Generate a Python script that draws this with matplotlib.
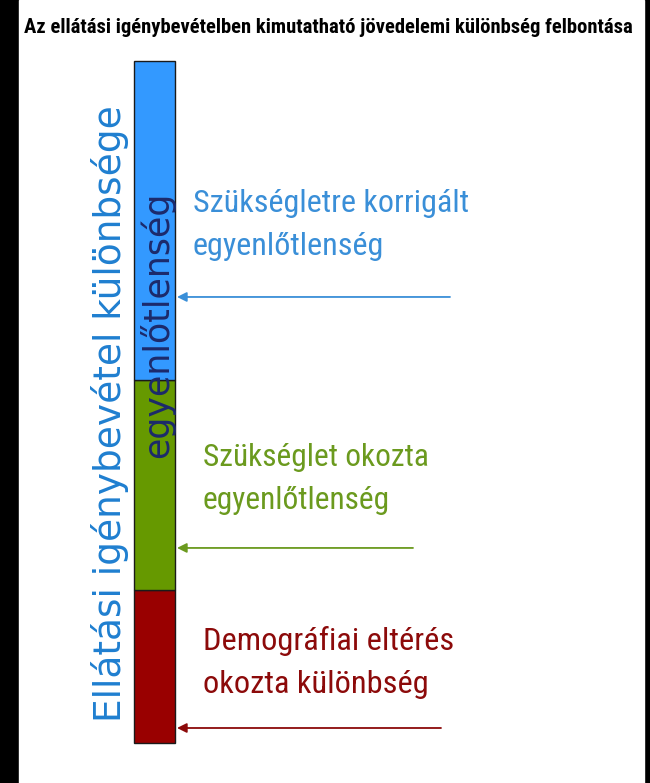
import matplotlib.pyplot as plt
from matplotlib.patches import Rectangle

W, H = 650, 783

title = "Az ellátási igénybevételben kimutatható jövedelemi különbség felbontása"
axis_label = "Ellátási igénybevétel különbsége"
bar_label = "egyenlőtlenség"

# bottom to top
components = ["Demográfiai eltérés\nokozta különbség",
              "Szükséglet okozta\negyenlőtlenség",
              "Szükségletre korrigált\negyenlőtlenség"]
shares = [22.4, 30.8, 46.8]
arrow_at = [2.2, 28.6, 65.4]

bar_colors = ["#990000", "#669900", "#3399ff"]
text_colors = ["#8c0a0a", "#6b9a1e", "#3a8fd8"]
text_x = [203, 203, 193]
text_tops = [630, 447, 193]
line1_widths = [232, 209, 255]
arrow_tails = [441, 413, 450]

NARROW = ["Roboto Condensed", "Roboto", "DejaVu Sans"]

fig = plt.figure(figsize=(6.5, 7.83), dpi=100, facecolor="black")
renderer = fig.canvas.get_renderer()


def fit_width(txt, target, probe=None, extra=1.0):
    # scale the font so the (first line of) text spans target pixels
    s = txt.get_text()
    if probe is not None:
        txt.set_text(probe)
    w = txt.get_window_extent(renderer).width
    txt.set_fontsize(txt.get_fontsize() * target / w * extra)
    txt.set_text(s)


ax = fig.add_axes([0, 0, 1, 1])
ax.set_xlim(0, W)
ax.set_ylim(H, 0)
ax.axis("off")
ax.add_patch(Rectangle((19, 0), 625, H, color="white", zorder=0))

t = ax.text(328, 33, title, ha="center", va="baseline", fontsize=14,
            fontweight="bold", family=NARROW, color="black")
fit_width(t, 614)

ax.text(110, 414, axis_label, rotation=90, ha="center", va="center",
        fontsize=27, family="DejaVu Sans", color="#1f7fd0")

# stacked bar
bax = fig.add_axes([134 / W, (H - 743) / H, 41 / W, 682 / H])
bax.set_xlim(-0.5, 0.5)
bax.set_ylim(0, sum(shares))
bax.axis("off")
bottom = 0
for v, c in zip(shares, bar_colors):
    bax.bar(0, v, bottom=bottom, width=1, color=c, edgecolor="#1a1a1a",
            linewidth=1, clip_on=False)
    bottom += v

bax.text(157, 325, bar_label, rotation=90, ha="center", va="center",
         fontsize=25, family="DejaVu Sans", color="#1c2a6b",
         transform=ax.transData)

coords = (ax.transData, bax.transData)
for label, a, tc, x, top, lw, tail in zip(components, arrow_at, text_colors,
                                          text_x, text_tops, line1_widths,
                                          arrow_tails):
    t = ax.text(x, top - 4, label, ha="left", va="top", fontsize=20,
                family=NARROW, color=tc, linespacing=1.6)
    fit_width(t, lw, probe=label.split("\n")[0], extra=1.08)
    bax.annotate("", xy=(177, a), xycoords=coords,
                 xytext=(tail, a), textcoords=coords,
                 arrowprops=dict(arrowstyle="-|>", color=tc, lw=1.3,
                                 mutation_scale=14, shrinkA=0, shrinkB=0))

fig.savefig("out.png", dpi=100, facecolor="black")
